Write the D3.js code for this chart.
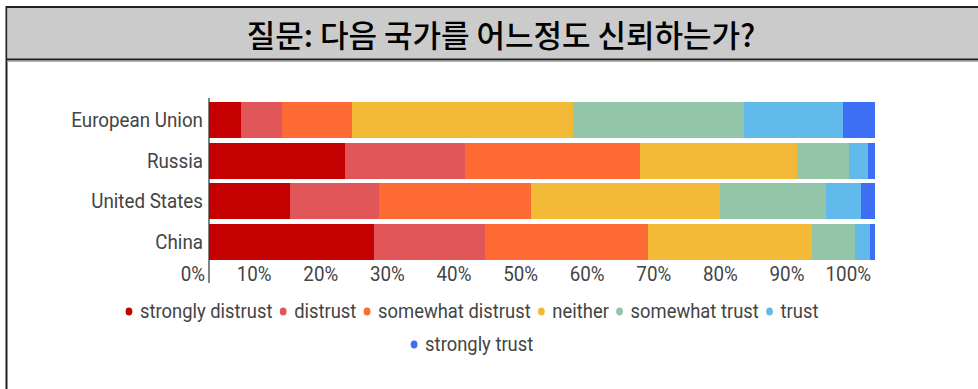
<!DOCTYPE html>
<html>
<head>
<meta charset="utf-8">
<script src="https://cdn.jsdelivr.net/npm/d3@7"></script>
<style>
  html, body { margin: 0; padding: 0; background: #ffffff; }
  svg { display: block; }
  .lbl { font-family: Roboto, "Noto Sans", sans-serif; fill: #444444; }
</style>
</head>
<body>
<svg id="chart" width="978" height="389"></svg>
<script>
// Survey: how much do you trust each country (share of respondents, %)
const titleText = "질문: 다음 국가를 어느정도 신뢰하는가?";
const categories = ["European Union", "Russia", "United States", "China"];
const seriesNames = ["strongly distrust", "distrust", "somewhat distrust", "neither", "somewhat trust", "trust", "strongly trust"];
const seriesColors = ["#c40000", "#e05659", "#fd6a34", "#f2ba36", "#93c6a9", "#62b9eb", "#3d6ef4"];

// one array per answer, in the order of categories
const stronglyDistrust = [4.8, 20.4, 12.2, 24.8];
const distrust         = [6.2, 18.0, 13.4, 16.6];
const somewhatDistrust = [10.5, 26.3, 22.7, 24.5];
const neither          = [33.1, 23.6, 28.4, 24.6];
const somewhatTrust    = [25.8, 7.8, 15.9, 6.5];
const trust            = [14.8, 2.9, 5.3, 2.2];
const stronglyTrust    = [4.8, 1.0, 2.1, 0.8];

const tickValues = [0, 10, 20, 30, 40, 50, 60, 70, 80, 90, 100];
const tickLabels = ["0%", "10%", "20%", "30%", "40%", "50%", "60%", "70%", "80%", "90%", "100%"];

const seriesValues = [stronglyDistrust, distrust, somewhatDistrust, neither, somewhatTrust, trust, stronglyTrust];
const rows = categories.map((c, i) => {
  const r = { category: c };
  seriesNames.forEach((s, k) => { r[s] = seriesValues[k][i]; });
  return r;
});

const svg = d3.select("#chart");

// frame and header band
svg.append("rect").attr("x", 6.5).attr("y", 7).attr("width", 990).attr("height", 400)
  .attr("fill", "#ffffff").attr("stroke", "#222222").attr("stroke-width", 2);
svg.append("rect").attr("x", 7.5).attr("y", 8).attr("width", 990).attr("height", 51)
  .attr("fill", "#cbcbcb");
svg.append("line").attr("x1", 6).attr("x2", 978).attr("y1", 59.5).attr("y2", 59.5)
  .attr("stroke", "#222222").attr("stroke-width", 2);
svg.append("line").attr("x1", 7).attr("x2", 978).attr("y1", 61.5).attr("y2", 61.5)
  .attr("stroke", "#b5b5b5").attr("stroke-width", 1);

svg.append("text")
  .attr("x", 501).attr("y", 47)
  .attr("text-anchor", "middle")
  .attr("font-family", "'Noto Sans CJK KR', sans-serif")
  .attr("font-size", 31)
  .attr("font-weight", 500)
  .attr("fill", "#000000")
  .text(titleText);

// scales
const x = d3.scaleLinear().domain([0, 100]).range([209, 875]);
const y = d3.scaleBand().domain(categories).range([100, 262]).paddingInner(0.11).paddingOuter(0.06);
const color = d3.scaleOrdinal().domain(seriesNames).range(seriesColors);

// stacked bars
const stacked = d3.stack().keys(seriesNames)(rows);
svg.append("g").selectAll("g").data(stacked).join("g")
  .attr("fill", d => color(d.key))
  .selectAll("rect").data(d => d).join("rect")
  .attr("x", d => x(d[0]))
  .attr("y", d => y(d.data.category))
  .attr("width", d => x(d[1]) - x(d[0]))
  .attr("height", y.bandwidth())
  .attr("shape-rendering", "crispEdges");

// helper for horizontally narrowed text
function narrowText(parent, px, py, str, size, anchor, squeeze) {
  return parent.append("g").attr("transform", `translate(${px},${py})`)
    .append("text").attr("class", "lbl")
    .attr("transform", `scale(${squeeze},1)`)
    .attr("font-size", size).attr("text-anchor", anchor).text(str);
}

// category labels
const catG = svg.append("g");
categories.forEach(c => {
  narrowText(catG, x(0) - 6, y(c) + y.bandwidth() / 2 + 7, c, 20, "end", 0.94);
});

// baseline axis
svg.append("line")
  .attr("x1", x(0)).attr("x2", x(0)).attr("y1", 98).attr("y2", 283)
  .attr("stroke", "#333333").attr("stroke-width", 1.2);

// tick labels
const tickG = svg.append("g");
tickValues.forEach((v, i) => {
  narrowText(tickG, x(v) - 4, 281, tickLabels[i], 20, "end", 0.94);
});

// legend (wrapped in two centred rows)
const legendRows = [seriesNames.slice(0, 6), seriesNames.slice(6)];
const legendY = [311.5, 344.5];
const legendCenter = 472;
const legendSqueeze = 0.92;
legendRows.forEach((names, ri) => {
  const g = svg.append("g");
  let cx = 0;
  names.forEach((n, k) => {
    const item = g.append("g").attr("transform", `translate(${cx},0)`);
    item.append("ellipse").attr("cx", 0).attr("cy", legendY[ri]).attr("rx", 3.4).attr("ry", 4)
      .attr("fill", color(n));
    const t = narrowText(item, 11, legendY[ri] + 6.8, n, 20, "start", legendSqueeze);
    const w = t.node().getComputedTextLength() * legendSqueeze;
    cx += 11 + w + 10.7;
  });
  const total = cx - 10.7 + 3.4;
  g.attr("transform", `translate(${legendCenter - total / 2 + 3.4},0)`);
});
</script>
</body>
</html>
